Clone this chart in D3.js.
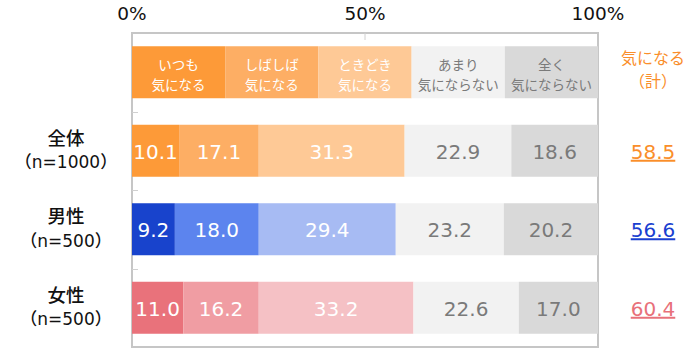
<!DOCTYPE html>
<html><head><meta charset="utf-8">
<script src="https://cdn.jsdelivr.net/npm/d3@7"></script>
<style>
html,body{margin:0;padding:0;background:#fff;}
svg{display:block;font-family:"Noto Sans CJK JP","Noto Sans",sans-serif;}
.num{font-family:"DejaVu Sans","Noto Sans CJK JP",sans-serif;}
</style></head>
<body>
<svg id="c" width="700" height="355"></svg>
<script>
const rowNames = ["全体","男性","女性"];
const rowN = ["n=1000","n=500","n=500"];
const always = [10.1, 9.2, 11.0];
const often = [17.1, 18.0, 16.2];
const sometimes = [31.3, 29.4, 33.2];
const rarely = [22.9, 23.2, 22.6];
const never = [18.6, 20.2, 17.0];
const totals = [58.5, 56.6, 60.4];
const legendLabels = [["いつも","気になる"],["しばしば","気になる"],["ときどき","気になる"],["あまり","気にならない"],["全く","気にならない"]];
const legendShares = [20,20,20,20,20];
const tickValues = [0,50,100];
const totalTitle = ["気になる","（計）"];

const palettes = [
  ["#FD9A38","#FDAE64","#FEC996","#F2F2F2","#D9D9D9"],
  ["#1843CC","#5C84EE","#A7BBF3","#F2F2F2","#D9D9D9"],
  ["#E9727B","#F09DA3","#F5C1C5","#F2F2F2","#D9D9D9"]
];
const textColors = ["#fff","#fff","#fff","#7a7a7a","#7a7a7a"];
const totalColors = ["#FA8E2A","#1A3FD0","#E8707A"];

const svg = d3.select("#c");
const x = d3.scaleLinear().domain([0,100]).range([132,598]);
const cats = ["header"].concat(rowNames);
const y = d3.scaleBand().domain(cats).range([33,347]).paddingInner(0.3376).paddingOuter(0.1688);
const bh = y.bandwidth();

// top axis labels
svg.append("g").selectAll("text").data(tickValues).join("text")
  .attr("class","num")
  .attr("x", d=>x(d)).attr("y", 20).attr("text-anchor","middle")
  .attr("font-size",18.5).attr("fill","#111").text(d=>d+"%");

// frame
svg.append("rect").attr("x",x(0)).attr("y",33).attr("width",x(100)-x(0)).attr("height",314)
  .attr("fill","none").attr("stroke","#C6C6C6").attr("stroke-width",2);
// 50% tick
svg.append("line").attr("x1",x(50)).attr("x2",x(50)).attr("y1",33).attr("y2",40)
  .attr("stroke","#D0D0D0").attr("stroke-width",1);
// left band ticks
const step = y.step();
cats.slice(1).forEach(c=>{
  const yy = Math.round(y(c) - (step-bh)/2)+0.5;
  svg.append("line").attr("x1",x(0)).attr("x2",x(0)+6).attr("y1",yy).attr("y2",yy)
    .attr("stroke","#D0D0D0").attr("stroke-width",1);
});

// header legend row
let acc = 0;
const legSeg = legendShares.map((s,i)=>{const o={x0:acc,x1:acc+s,i}; acc+=s; return o;});
const hg = svg.append("g");
hg.selectAll("rect").data(legSeg).join("rect")
  .attr("x",d=>x(d.x0)).attr("width",d=>x(d.x1)-x(d.x0))
  .attr("y",y("header")).attr("height",bh).attr("fill",d=>palettes[0][d.i]);
legSeg.forEach(d=>{
  const cx=(x(d.x0)+x(d.x1))/2, cy=y("header")+bh/2;
  const t = hg.append("text").attr("x",cx).attr("y",cy-2.5).attr("text-anchor","middle")
    .attr("font-size",13.5).attr("fill",textColors[d.i]);
  legendLabels[d.i].forEach((s,k)=>{
    t.append("tspan").attr("x",cx).attr("dy",k===0?0:20).text(s);
  });
});

// data rows
const series = [always, often, sometimes, rarely, never];
rowNames.forEach((name,r)=>{
  let a=0;
  const segs = series.map((s,i)=>{const o={x0:a,x1:a+s[r],v:s[r],i}; a+=s[r]; return o;});
  const g = svg.append("g");
  g.selectAll("rect").data(segs).join("rect")
    .attr("x",d=>x(d.x0)).attr("width",d=>x(d.x1)-x(d.x0))
    .attr("y",y(name)).attr("height",bh).attr("fill",d=>palettes[r][d.i]);
  g.selectAll("text").data(segs).join("text")
    .attr("class","num")
    .attr("x",d=>(x(d.x0)+x(d.x1))/2).attr("y",y(name)+bh/2+8)
    .attr("text-anchor","middle").attr("font-size",20).attr("fill",d=>textColors[d.i])
    .text(d=>d.v.toFixed(1));
  // row label
  const cy = y(name)+bh/2;
  const t = svg.append("text").attr("x",66).attr("y",cy-6).attr("text-anchor","middle")
    .attr("fill","#111");
  t.append("tspan").attr("x",66).attr("font-size",18.5).attr("font-weight",500).text(name);
  t.append("tspan").attr("x",66).attr("dy",23.5).attr("font-size",17).attr("font-weight",500).text("（");
  t.append("tspan").attr("class","num").attr("font-size",17).text(rowN[r]);
  t.append("tspan").attr("font-size",17).attr("font-weight",500).text("）");
  // totals
  svg.append("text").attr("class","num").attr("x",653).attr("y",cy+8).attr("text-anchor","middle")
    .attr("font-size",20).attr("fill",totalColors[r]).attr("text-decoration","underline")
    .text(totals[r].toFixed(1));
});

// total title
const ty = y("header")+bh/2;
const tt = svg.append("text").attr("x",653).attr("y",ty-8.5).attr("text-anchor","middle")
  .attr("font-size",16).attr("fill","#FA8E2A");
totalTitle.forEach((s,k)=>{
  tt.append("tspan").attr("x",653).attr("dy",k===0?0:23.5).text(s);
});
</script>
</body></html>
